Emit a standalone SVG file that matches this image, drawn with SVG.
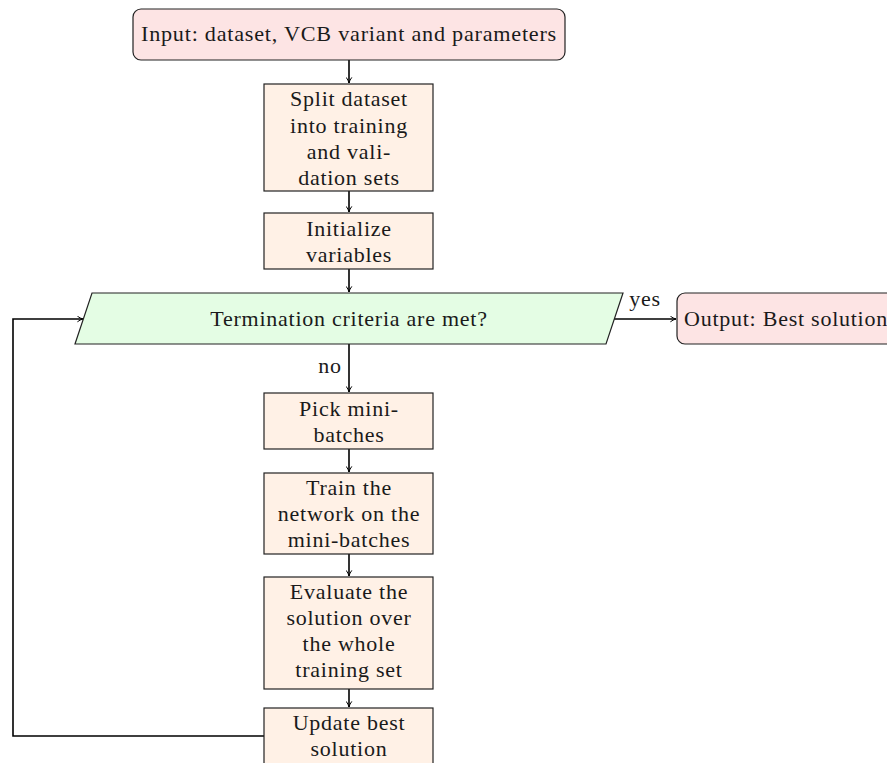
<svg xmlns="http://www.w3.org/2000/svg" width="887" height="763" viewBox="0 0 887 763">
<defs>
<marker id="ah" viewBox="0 0 10 10" refX="9" refY="5" markerWidth="7" markerHeight="7" markerUnits="userSpaceOnUse" orient="auto">
<path d="M1,1 Q5,4 9,5 Q5,6 1,9" fill="none" stroke="#000" stroke-width="1.4"/>
</marker>
<style>
text{font-family:"Liberation Serif","DejaVu Serif",serif;font-size:22px;letter-spacing:0.75px;fill:#1a1a1a;text-anchor:middle}
.io{fill:#fde4e4;stroke:#222;stroke-width:1.2}
.pr{fill:#fff1e6;stroke:#222;stroke-width:1.2}
.dc{fill:#e4fde4;stroke:#222;stroke-width:1.2}
.cn{fill:none;stroke:#000;stroke-width:1.6;marker-end:url(#ah)}
.ln{fill:none;stroke:#000;stroke-width:1.6}
</style>
</defs>
<g id="connectors">
<path class="cn" d="M349,60 V83"/>
<path class="cn" d="M349,191 V212"/>
<path class="cn" d="M349,269 V292"/>
<path class="cn" d="M614,319 H676"/>
<path class="cn" d="M349,344 V392"/>
<path class="cn" d="M349,449 V472"/>
<path class="cn" d="M349,554 V576"/>
<path class="cn" d="M349,689 V707"/>
<path class="cn" d="M264,736 H13 V319 H83"/>
<text x="645" y="306">yes</text>
<text x="330" y="373">no</text>
</g>
<g id="input">
<rect class="io" x="133" y="9" width="432" height="51" rx="8"/>
<text x="349" y="41" textLength="416" lengthAdjust="spacingAndGlyphs">Input: dataset, VCB variant and parameters</text>
</g>
<g id="split">
<rect class="pr" x="264" y="84" width="169" height="107"/>
<text x="349" y="106">Split dataset</text>
<text x="349" y="133">into training</text>
<text x="349" y="159">and vali-</text>
<text x="349" y="185">dation sets</text>
</g>
<g id="init">
<rect class="pr" x="264" y="213" width="169" height="56"/>
<text x="349" y="236">Initialize</text>
<text x="349" y="262">variables</text>
</g>
<g id="term">
<polygon class="dc" points="92,293 623,293 606,344 75,344"/>
<text x="349" y="326">Termination criteria are met?</text>
</g>
<g id="output">
<rect class="io" x="677" y="293" width="230" height="51" rx="8"/>
<text x="684" y="326" style="text-anchor:start">Output: Best solution</text>
</g>
<g id="pick">
<rect class="pr" x="264" y="393" width="169" height="56"/>
<text x="349" y="416">Pick mini-</text>
<text x="349" y="442">batches</text>
</g>
<g id="train">
<rect class="pr" x="264" y="473" width="169" height="81"/>
<text x="349" y="495">Train the</text>
<text x="349" y="521">network on the</text>
<text x="349" y="547">mini-batches</text>
</g>
<g id="evaluate">
<rect class="pr" x="264" y="577" width="169" height="112"/>
<text x="349" y="599">Evaluate the</text>
<text x="349" y="625">solution over</text>
<text x="349" y="651">the whole</text>
<text x="349" y="677">training set</text>
</g>
<g id="update">
<rect class="pr" x="264" y="708" width="169" height="70"/>
<text x="349" y="730">Update best</text>
<text x="349" y="756">solution</text>
</g>
</svg>
